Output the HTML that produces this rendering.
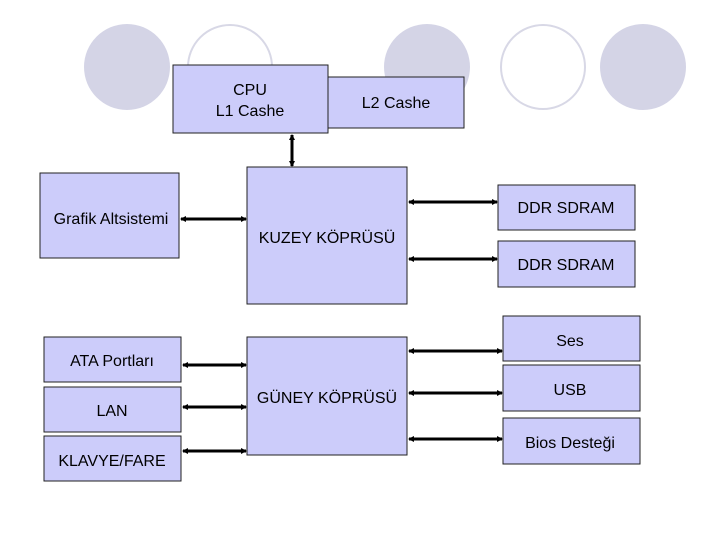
<!DOCTYPE html>
<html><head><meta charset="utf-8"><style>
body{margin:0;width:720px;height:540px;background:#fff;overflow:hidden}
</style></head><body>
<svg width="720" height="540" xmlns="http://www.w3.org/2000/svg" font-family="Liberation Sans, Arial, sans-serif" font-size="16">
<defs>
<marker id="a" markerWidth="6" markerHeight="6" refX="5" refY="3" orient="auto-start-reverse" markerUnits="userSpaceOnUse"><path d="M0,0L6,3L0,6z" fill="#000"/></marker>
</defs>
<ellipse cx="127" cy="67" rx="43" ry="43" fill="#d4d4e6"/>
<ellipse cx="230" cy="67" rx="42" ry="42" fill="none" stroke="#d8d8e6" stroke-width="2"/>
<ellipse cx="427" cy="67" rx="43" ry="43" fill="#d4d4e6"/>
<ellipse cx="543" cy="67" rx="42" ry="42" fill="none" stroke="#d8d8e6" stroke-width="2"/>
<ellipse cx="643" cy="67" rx="43" ry="43" fill="#d4d4e6"/>
<g fill="#ccccfa" stroke="#222" stroke-width="1">
<rect x="328" y="77" width="136" height="51"/>
<rect x="173" y="65" width="155" height="68"/>
<rect x="40" y="173" width="139" height="85"/>
<rect x="247" y="167" width="160" height="137"/>
<rect x="498" y="185" width="137" height="45"/>
<rect x="498" y="241" width="137" height="46"/>
<rect x="44" y="337" width="137" height="45"/>
<rect x="44" y="387" width="137" height="45"/>
<rect x="44" y="436" width="137" height="45"/>
<rect x="247" y="337" width="160" height="118"/>
<rect x="503" y="316" width="137" height="45"/>
<rect x="503" y="365" width="137" height="46"/>
<rect x="503" y="418" width="137" height="46"/>
</g>
<g stroke="#000" stroke-width="3" marker-start="url(#a)" marker-end="url(#a)">
<line x1="292" y1="135" x2="292" y2="166"/>
<line x1="181" y1="219" x2="246" y2="219"/>
<line x1="409" y1="202" x2="497" y2="202"/>
<line x1="409" y1="259" x2="497" y2="259"/>
<line x1="183" y1="365" x2="246" y2="365"/>
<line x1="183" y1="407" x2="246" y2="407"/>
<line x1="183" y1="451" x2="246" y2="451"/>
<line x1="409" y1="351" x2="502" y2="351"/>
<line x1="409" y1="393" x2="502" y2="393"/>
<line x1="409" y1="439" x2="502" y2="439"/>
</g>
<g fill="#000" text-anchor="middle">
<text x="250" y="95">CPU</text>
<text x="250" y="116">L1 Cashe</text>
<text x="396" y="108">L2 Cashe</text>
<text x="111" y="224">Grafik Altsistemi</text>
<text x="327" y="243">KUZEY KÖPRÜSÜ</text>
<text x="566" y="213">DDR SDRAM</text>
<text x="566" y="270">DDR SDRAM</text>
<text x="112" y="366">ATA Portları</text>
<text x="112" y="416">LAN</text>
<text x="112" y="466">KLAVYE/FARE</text>
<text x="327" y="403">GÜNEY KÖPRÜSÜ</text>
<text x="570" y="346">Ses</text>
<text x="570" y="395">USB</text>
<text x="570" y="448">Bios Desteği</text>
</g>
</svg>
</body></html>
